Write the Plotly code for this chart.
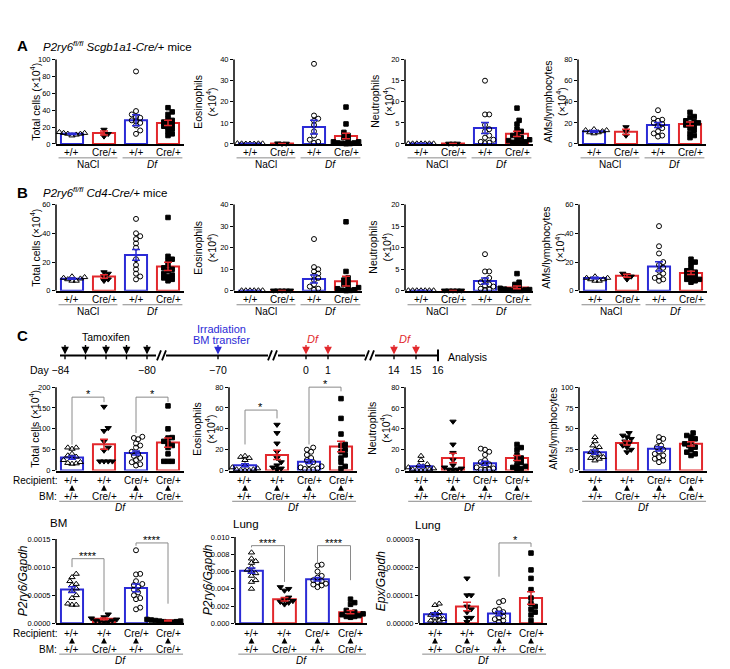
import plotly.graph_objects as go

W, H = 730, 669
BLUE = "#2b2bd6"
RED = "#e2282c"
GRAY = "#8a8a8a"
FONT = "Liberation Sans, Arial, Helvetica, sans-serif"

# ---------------- DATA ----------------
genotypes = ["+/+", "Cre/+", "+/+", "Cre/+"]
treatments = ["NaCl", "<i>Df</i>"]
recipients = ["+/+", "+/+", "Cre/+", "Cre/+"]
donors_bm = ["+/+", "Cre/+", "+/+", "Cre/+"]

# Panel A: P2ry6 fl/fl Scgb1a1-Cre/+ mice
A_total_pts = [[14, 13, 13, 12, 12, 11, 10], [17, 12, 9],
               [86, 39, 35, 32, 31, 28, 27, 25, 22, 16, 12],
               [43, 38, 35, 30, 28, 26, 25, 23, 21, 20, 18, 15, 12, 10]]
A_total_mean = [12, 13, 28, 25]
A_total_sem = [0.8, 2.5, 6.5, 3]
A_eos_pts = [[0.2, 0.1, 0.3, 0.2, 0.1, 0.2, 0.1], [0.2, 0.3, 0.1],
             [38, 13.5, 12, 11, 9, 6, 4, 2, 1, 0.5],
             [17.5, 9.5, 5.5, 4, 3, 2, 1.5, 1, 1, 0.5, 0.5, 0.3, 0.2, 0.1]]
A_eos_mean = [0.2, 0.2, 8, 3.8]
A_eos_sem = [0.05, 0.05, 3.3, 1.3]
A_neu_pts = [[0.1, 0.1, 0.1, 0.1, 0.1, 0.1, 0.1], [0.1, 0.1, 0.1],
             [15, 7, 7, 4.5, 3.5, 3, 2, 1.5, 1, 0.5, 0.3, 0.2],
             [8.5, 5.6, 4.7, 3.5, 3, 2.5, 2, 1.5, 1.2, 1, 0.8, 0.5, 0.4, 0.3, 0.2]]
A_neu_mean = [0.1, 0.1, 3.8, 2.4]
A_neu_sem = [0.02, 0.02, 1.3, 0.6]
A_am_pts = [[14, 13, 13, 12, 11, 11, 10], [16, 12, 8],
            [32, 24, 23, 22, 20, 19, 17, 15, 12, 10, 8, 7],
            [30, 26, 25, 22, 21, 20, 19, 18, 17, 15, 13, 10, 8, 6]]
A_am_mean = [12, 11.5, 18, 19]
A_am_sem = [0.8, 2.5, 2.3, 1.8]

# Panel B: P2ry6 fl/fl Cd4-Cre/+ mice
B_total_pts = [[10, 9.5, 9, 8.5, 8, 7, 7], [13, 12, 10, 8, 7],
               [50, 40, 38, 36, 33, 30, 22, 18, 15, 12, 10, 8],
               [51, 24, 22, 21, 18, 16, 15, 14, 12, 11, 10, 9, 8, 7]]
B_total_mean = [8.5, 10, 25, 17]
B_total_sem = [0.5, 1.2, 3.8, 2.8]
B_eos_pts = [[0.2, 0.2, 0.2, 0.2, 0.2, 0.2], [0.2, 0.2, 0.2, 0.2, 0.2],
             [24, 11, 10, 9, 8, 7, 6, 5, 3, 2, 1, 0.5],
             [32, 9, 6, 5, 4, 3, 2, 1.5, 1, 0.5, 0.3, 0.2, 0.1]]
B_eos_mean = [0.1, 0.1, 5.5, 4.5]
B_eos_sem = [0.05, 0.05, 1.8, 2.3]
B_neu_pts = [[0.1, 0.1, 0.1, 0.1, 0.1, 0.1, 0.1], [0.1, 0.1, 0.1, 0.1, 0.1],
             [8.5, 4.5, 4.5, 3, 2.5, 2, 1.5, 1.2, 1, 0.5, 0.3, 0.2],
             [4, 2, 1.5, 1, 0.8, 0.6, 0.5, 0.4, 0.3, 0.2, 0.2, 0.1, 0.1, 0.1]]
B_neu_mean = [0.05, 0.05, 2.3, 0.8]
B_neu_sem = [0.02, 0.02, 0.7, 0.3]
B_am_pts = [[10, 9, 9, 8, 8, 7, 7], [12, 11, 10, 8],
            [45, 31, 26, 20, 18, 16, 14, 12, 10, 9, 8, 7],
            [22, 20, 19, 16, 14, 13, 12, 11, 10, 9, 8, 8, 7, 6]]
B_am_mean = [9, 10.5, 17, 12.5]
B_am_sem = [0.5, 1, 3.2, 1.2]

# Panel C: bone marrow chimeras, Df
C_total_pts = [[55, 55, 52, 40, 36, 33, 30, 25, 20, 18, 17, 16],
               [153, 102, 95, 70, 55, 48, 22, 22, 22, 22],
               [81, 78, 75, 65, 60, 55, 45, 40, 35, 30, 25, 20, 15, 12],
               [155, 100, 79, 78, 70, 65, 60, 55, 40, 22, 22, 22]]
C_total_mean = [31, 63, 42, 67]
C_total_sem = [4, 12, 5, 11]
C_eos_pts = [[14, 13, 12, 10, 5, 3, 2, 1, 1, 0.5, 0.3, 0.2],
             [44, 36, 26, 18, 12, 8, 5, 3, 2, 1],
             [22, 20, 18, 15, 12, 10, 8, 6, 4, 3, 2, 1.5, 1, 0.5],
             [69, 50, 35, 25, 24, 20, 18, 15, 12, 8, 4, 2]]
C_eos_mean = [5, 15, 8.5, 23]
C_eos_sem = [1.5, 4.5, 1.8, 5]
C_neu_pts = [[14, 10, 6, 5, 4, 3, 2, 1, 1, 0.5, 0.5, 0.3],
             [47, 25, 17, 10, 5, 3, 2, 1, 1, 0.5],
             [21, 20, 18, 15, 10, 8, 6, 5, 3, 2, 1, 1, 0.5],
             [25, 22, 20, 15, 12, 10, 8, 5, 4, 3, 2, 1]]
C_neu_mean = [4, 12, 7, 12]
C_neu_sem = [1.2, 4.5, 2, 2.5]
C_am_pts = [[40, 35, 30, 28, 25, 22, 20, 18, 16, 15, 14, 12],
            [45, 42, 40, 38, 35, 33, 30, 28, 25, 22],
            [40, 38, 35, 30, 28, 25, 23, 20, 18, 16, 14, 12, 10],
            [45, 42, 40, 38, 35, 32, 30, 28, 25, 22, 20, 18]]
C_am_mean = [22, 33, 26, 32]
C_am_sem = [2.5, 2.5, 2.5, 2.5]

C_bm_pts = [[0.00088, 0.00082, 0.00075, 0.0007, 0.00068, 0.00062, 0.00058, 0.0005, 0.00045, 0.00035, 0.00033, 0.00033],
            [0.00016, 0.00011, 0.00009, 0.00007, 0.00005, 0.00005, 0.00004, 0.00003, 0.00002],
            [0.0013, 0.00088, 0.00087, 0.00075, 0.0007, 0.00068, 0.00065, 0.0006, 0.00055, 0.0005, 0.00045, 0.00043, 0.00028, 0.00025],
            [0.00008, 0.00007, 0.00006, 0.00006, 0.00005, 0.00005, 0.00004, 0.00004, 0.00003, 0.00003, 0.00002, 0.00002]]
C_bm_mean = [0.0006, 0.00008, 0.00063, 0.00005]
C_bm_sem = [0.00005, 0.000015, 0.00007, 0.000006]
C_lung_pts = [[0.0082, 0.0075, 0.0072, 0.007, 0.0065, 0.0062, 0.006, 0.0058, 0.0055, 0.005, 0.0048, 0.004],
              [0.0042, 0.004, 0.0038, 0.003, 0.0027, 0.0026, 0.0025, 0.0024, 0.0022],
              [0.0068, 0.0067, 0.006, 0.0055, 0.0053, 0.005, 0.0049, 0.0048, 0.0046, 0.0045, 0.0044, 0.0042],
              [0.0028, 0.0024, 0.0022, 0.0015, 0.0013, 0.0012, 0.0011, 0.001, 0.0009, 0.0008, 0.0008, 0.0007]]
C_lung_mean = [0.0061, 0.0028, 0.0051, 0.0013]
C_lung_sem = [0.0003, 0.0002, 0.0002, 0.0002]
C_epx_pts = [[7e-6, 6.5e-6, 4e-6, 3.5e-6, 3e-6, 2.5e-6, 2e-6, 1.5e-6, 1e-6, 1e-6, 0.5e-6],
             [16e-6, 10e-6, 10e-6, 6e-6, 5e-6, 4e-6, 2e-6, 2e-6, 0.5e-6],
             [8e-6, 7.5e-6, 5e-6, 4.5e-6, 4e-6, 3.5e-6, 2.5e-6, 2e-6, 1.5e-6, 1e-6, 0.5e-6],
             [25e-6, 19e-6, 16e-6, 12e-6, 9e-6, 7e-6, 6e-6, 5e-6, 4e-6, 3e-6, 1e-6]]
C_epx_mean = [3.2e-6, 6e-6, 3.5e-6, 9e-6]
C_epx_sem = [0.6e-6, 1.5e-6, 0.7e-6, 2.2e-6]

# tick values / labels
ticks_A_total = [0, 20, 40, 60, 80, 100]
ticks_eos40 = [0, 10, 20, 30, 40]
ticks_neu20 = [0, 5, 10, 15, 20]
ticks_A_am = [0, 20, 40, 60, 80]
ticks_60 = [0, 20, 40, 60]
ticks_C_total = [0, 50, 100, 150, 200]
ticks_80 = [0, 20, 40, 60, 80]
ticks_C_am = [0, 25, 50, 75, 100]
ticks_bm = [0, 0.0005, 0.0010, 0.0015]
ticktext_bm = ["0.0000", "0.0005", "0.0010", "0.0015"]
ticks_lung = [0, 0.002, 0.004, 0.006, 0.008, 0.010]
ticktext_lung = ["0.000", "0.002", "0.004", "0.006", "0.008", "0.010"]
ticks_epx = [0, 0.00001, 0.00002, 0.00003]
ticktext_epx = ["0.00000", "0.00001", "0.00002", "0.00003"]

# significance: (group i, group j, bracket top, left leg end, right leg end, label)
C_total_sig = [(0, 1, 176, 62, 164, "*"), (2, 3, 176, 90, 164, "*")]
C_eos_sig = [(0, 1, 58, 25, 50, "*"), (2, 3, 80, 25, 76, "*")]
C_bm_sig = [(0, 1, 0.00115, 0.001, 0.00021, "****"), (2, 3, 0.00143, 0.00138, 0.00035, "****")]
C_lung_sig = [(0, 1, 0.009, 0.0088, 0.0048, "****"), (2, 3, 0.009, 0.0071, 0.005, "****")]
C_epx_sig = [(2, 3, 2.86e-5, 1.66e-5, 2.72e-5, "*")]

# timeline (days)
tamoxifen_days = [-84, -83, -82, -81, -80]
irradiation_days = [-70]
df_days = [0, 1, 14, 15]
analysis_day = 16
day_labels = {-84: "Day −84", -80: "−80", -70: "−70", 0: "0", 1: "1", 14: "14", 15: "15", 16: "16"}

# ---------------- LAYOUT HELPERS ----------------
SYMBOLS = ["triangle-up-open", "triangle-down", "circle-open", "square"]
SIZES = [5.5, 5.5, 5, 4.5]
BAR_COLORS = [BLUE, RED, BLUE, RED]

fig = go.Figure()
layout = {}
shapes = []
annotations = []


def px_x(p):
    return p / W


def px_y(p):
    return 1 - p / H


def beeswarm(vals, ppu_y, ppu_x, diam=4.2):
    idx = sorted(range(len(vals)), key=lambda k: vals[k])
    placed = []
    off = [0.0] * len(vals)
    step = diam * 0.5
    cands = [0.0]
    for s in range(1, 40):
        cands += [s * step, -s * step]
    for k in idx:
        y = vals[k] * ppu_y
        for c in cands:
            if all((c - a) ** 2 + (y - b) ** 2 >= diam ** 2 for a, b in placed):
                break
        placed.append((c, y))
        off[k] = c / ppu_x
    return off


def text(x, y, s, size=10, xref="paper", yref="paper", xanchor="center", yanchor="middle",
         color="black", angle=0, **kw):
    annotations.append(dict(x=x, y=y, text=s, xref=xref, yref=yref, showarrow=False,
                            xanchor=xanchor, yanchor=yanchor, textangle=angle,
                            font=dict(size=size, color=color, family=FONT), **kw))


def up_arrow(x, y, xref):
    annotations.append(dict(x=x, y=y, xref=xref, yref="paper", ax=0, ay=7, text="",
                            showarrow=True, arrowhead=2, arrowsize=0.9, arrowwidth=1.3,
                            arrowcolor="black"))


def panel(n, pts, mean, sem, ticks, ticktext, left, width, zero_px, top_px,
          ytitle, title_x, kind, sig=(), first=False, ytitle_size=10.5):
    ppu = (zero_px - top_px) / ticks[-1]
    top_needed = max([ticks[-1]] + [max(p) for p in pts] + [s[2] for s in sig])
    ext = top_needed * 1.08
    dom_top = zero_px - ext * ppu
    xa, ya = f"x{n}", f"y{n}"
    layout[f"xaxis{n}"] = dict(domain=[px_x(left), px_x(left + width)], anchor=ya,
                               range=[-0.5, 3.5], showline=True, linecolor="black", linewidth=1.5,
                               showticklabels=False, ticks="", showgrid=False, zeroline=False,
                               fixedrange=True)
    layout[f"yaxis{n}"] = dict(domain=[px_y(zero_px), px_y(dom_top)], anchor=xa,
                               range=[0, ext], tickvals=ticks,
                               ticktext=ticktext if ticktext else [str(t) for t in ticks],
                               ticks="outside", ticklen=3, tickwidth=1.2, tickcolor="black",
                               tickfont=dict(size=7.5, family=FONT, color="black"),
                               showline=False, showgrid=False, zeroline=False, fixedrange=True)
    shapes.append(dict(type="line", xref="paper", yref=ya, x0=px_x(left), x1=px_x(left),
                       y0=0, y1=ticks[-1], line=dict(color="black", width=1.5)))
    ppu_x = width / 4.0
    for col in (BLUE, RED):
        ids = [i for i in range(4) if BAR_COLORS[i] == col]
        fig.add_trace(go.Bar(x=ids, y=[mean[i] for i in ids], width=0.69, xaxis=xa, yaxis=ya,
                             marker=dict(color="rgba(0,0,0,0)", line=dict(color=col, width=2)),
                             showlegend=False, hoverinfo="skip"))
    for i in range(4):
        off = beeswarm(pts[i], ppu, ppu_x)
        fig.add_trace(go.Scatter(x=[i + o for o in off], y=pts[i], mode="markers", xaxis=xa, yaxis=ya,
                                 cliponaxis=False, showlegend=False, hoverinfo="skip",
                                 marker=dict(symbol=SYMBOLS[i], size=SIZES[i], color="black",
                                             line=dict(color="black", width=1))))
    for i in range(4):
        fig.add_trace(go.Scatter(x=[i], y=[mean[i]], mode="markers", xaxis=xa, yaxis=ya,
                                 showlegend=False, hoverinfo="skip", cliponaxis=False,
                                 marker=dict(size=1, color="rgba(0,0,0,0)"),
                                 error_y=dict(type="data", array=[sem[i]], color=BAR_COLORS[i],
                                              thickness=1.5, width=4)))
    for (i, j, top, lb, rb, lab) in sig:
        for (x0, y0, x1, y1) in [(i, lb, i, top), (i, top, j, top), (j, top, j, rb)]:
            shapes.append(dict(type="line", xref=xa, yref=ya, x0=x0, x1=x1, y0=y0, y1=y1,
                               line=dict(color=GRAY, width=1)))
        text((i + j) / 2, top, lab, size=11, xref=xa, yref=ya, yanchor="bottom", yshift=-5)
    text(px_x(title_x), px_y((zero_px + top_px) / 2), ytitle, size=ytitle_size, angle=-90)
    if kind == "AB":
        for i in range(4):
            text(i, px_y(zero_px + 9), genotypes[i], size=10, xref=xa)
        for (a, b, lab, c) in [(-0.42, 1.42, treatments[0], 0.5), (1.58, 3.45, treatments[1], 2.5)]:
            shapes.append(dict(type="line", xref=xa, yref="paper", x0=a, x1=b,
                               y0=px_y(zero_px + 14), y1=px_y(zero_px + 14),
                               line=dict(color=GRAY, width=1)))
            text(c, px_y(zero_px + 20.5), lab, size=10, xref=xa)
    else:
        for i in range(4):
            text(i, px_y(zero_px + 10), recipients[i], size=10, xref=xa)
            up_arrow(i, px_y(zero_px + 14.5), xa)
            text(i, px_y(zero_px + 26), donors_bm[i], size=10, xref=xa)
        shapes.append(dict(type="line", xref=xa, yref="paper", x0=-0.4, x1=3.47,
                           y0=px_y(zero_px + 31), y1=px_y(zero_px + 31),
                           line=dict(color=GRAY, width=1)))
        text(1.5, px_y(zero_px + 37), "<i>Df</i>", size=10, xref=xa)
        if first:
            text(px_x(51), px_y(zero_px + 10), "Recipient:", size=10, xanchor="right")
            text(px_x(51), px_y(zero_px + 26), "BM:", size=10, xanchor="right")


X10 = "(×10<sup>4</sup>)"
panel(1, A_total_pts, A_total_mean, A_total_sem, ticks_A_total, None, 48, 128, 137, 52,
      "Total cells " + X10, 27, "AB")
panel(2, A_eos_pts, A_eos_mean, A_eos_sem, ticks_eos40, None, 226, 128, 137, 52,
      "Eosinophils<br>" + X10, 197, "AB")
panel(3, A_neu_pts, A_neu_mean, A_neu_sem, ticks_neu20, None, 397, 128, 137, 52,
      "Neutrophils<br>" + X10, 374, "AB")
panel(4, A_am_pts, A_am_mean, A_am_sem, ticks_A_am, None, 570, 128, 137, 52,
      "AMs/lymphocytes<br>" + X10, 547, "AB")
panel(5, B_total_pts, B_total_mean, B_total_sem, ticks_60, None, 48, 128, 285, 198,
      "Total cells " + X10, 27, "AB")
panel(6, B_eos_pts, B_eos_mean, B_eos_sem, ticks_eos40, None, 226, 128, 285, 198,
      "Eosinophils<br>" + X10, 197, "AB")
panel(7, B_neu_pts, B_neu_mean, B_neu_sem, ticks_neu20, None, 397, 128, 285, 198,
      "Neutrophils<br>" + X10, 372, "AB")
panel(8, B_am_pts, B_am_mean, B_am_sem, ticks_60, None, 571, 128, 285, 198,
      "AMs/lymphocytes<br>" + X10, 545, "AB")
panel(9, C_total_pts, C_total_mean, C_total_sem, ticks_C_total, None, 48, 128, 466, 382,
      "Total cells " + X10, 26, "C", C_total_sig, first=True)
panel(10, C_eos_pts, C_eos_mean, C_eos_sem, ticks_80, None, 221, 128, 466, 382,
      "Eosinophils<br>" + X10, 196, "C", C_eos_sig)
panel(11, C_neu_pts, C_neu_mean, C_neu_sem, ticks_80, None, 397, 128, 466, 382,
      "Neutrophils<br>" + X10, 371, "C")
panel(12, C_am_pts, C_am_mean, C_am_sem, ticks_C_am, None, 571, 128, 466, 382,
      "AMs/lymphocytes", 545, "C")
panel(13, C_bm_pts, C_bm_mean, C_bm_sem, ticks_bm, ticktext_bm, 48, 128, 620, 535,
      "<i>P2ry6/Gapdh</i>", 15, "C", C_bm_sig, first=True, ytitle_size=12)
panel(14, C_lung_pts, C_lung_mean, C_lung_sem, ticks_lung, ticktext_lung, 227, 132, 620, 533,
      "<i>P2ry6/Gapdh</i>", 200, "C", C_lung_sig, ytitle_size=12)
panel(15, C_epx_pts, C_epx_mean, C_epx_sem, ticks_epx, ticktext_epx, 411, 128, 620, 535,
      "<i>Epx/Gapdh</i>", 373, "C", C_epx_sig, ytitle_size=12)

text(px_x(7), px_y(38), "<b>A</b>", size=15, xanchor="left")
text(px_x(33), px_y(38), "<i>P2ry6<sup>fl/fl</sup> Scgb1a1-Cre/+</i> mice", size=11.5, xanchor="left")
text(px_x(7), px_y(185.5), "<b>B</b>", size=15, xanchor="left")
text(px_x(33), px_y(185.5), "<i>P2ry6<sup>fl/fl</sup> Cd4-Cre/+</i> mice", size=11.5, xanchor="left")
text(px_x(7), px_y(330), "<b>C</b>", size=15, xanchor="left")
text(px_x(40), px_y(519), "BM", size=11.5, xanchor="left")
text(px_x(223), px_y(520), "Lung", size=11.5, xanchor="left")
text(px_x(405), px_y(521), "Lung", size=11.5, xanchor="left")

# ---------------- TIMELINE (broken day axis) ----------------
layout["xaxis16"] = dict(domain=[0, 1], range=[0, W], visible=False, anchor="y16", fixedrange=True)
layout["yaxis16"] = dict(domain=[0, 1], range=[H, 0], visible=False, anchor="x16", fixedrange=True)
TL_SEGMENTS = [(-84, -80, 57, 139), (-70, -70, 210, 210), (0, 1, 298, 320), (14, 16, 386, 430)]
TL_Y = 350


def day_pos(d):
    for a, b, p0, p1 in TL_SEGMENTS:
        if a <= d <= b:
            return p0 if a == b else p0 + (d - a) * (p1 - p0) / (b - a)
    raise ValueError(d)


def tl_line(x0, y0, x1, y1, width=2, color="black"):
    shapes.append(dict(type="line", xref="x16", yref="y16", x0=x0, y0=y0, x1=x1, y1=y1,
                       line=dict(color=color, width=width)))


for a, b in [(52, 148), (158, 260), (270, 357), (367, day_pos(analysis_day))]:
    tl_line(a, TL_Y, b, TL_Y)
for bx in (149, 260, 357):
    for dx in (0, 5):
        tl_line(bx + dx, TL_Y + 5, bx + dx + 4, TL_Y - 5, width=1.8)
tl_line(day_pos(analysis_day), TL_Y - 6, day_pos(analysis_day), TL_Y + 6)


def tl_arrow(d, color):
    x = day_pos(d)
    annotations.append(dict(x=x, y=TL_Y - 1, ax=x, ay=TL_Y - 12, xref="x16", yref="y16",
                            axref="x16", ayref="y16", showarrow=True, arrowhead=2, arrowsize=1.1,
                            arrowwidth=1.4, arrowcolor=color, text=""))
    tl_line(x, TL_Y, x, TL_Y + 4, width=1.4)


for d in tamoxifen_days:
    tl_arrow(d, "black")
for d in irradiation_days:
    tl_arrow(d, BLUE)
for d in df_days:
    tl_arrow(d, RED)

for d, lab in day_labels.items():
    if d == -84:
        text(day_pos(d) + 7, 365, lab, size=10.5, xref="x16", yref="y16", xanchor="right")
    else:
        text(day_pos(d), 365, lab, size=10.5, xref="x16", yref="y16")

text((day_pos(tamoxifen_days[0]) + day_pos(tamoxifen_days[-1])) / 2, 331, "Tamoxifen", size=10.5,
     xref="x16", yref="y16")
text(day_pos(irradiation_days[0]) + 3, 323, "Irradiation", size=11, xref="x16", yref="y16", color=BLUE)
text(day_pos(irradiation_days[0]) + 3, 334, "BM transfer", size=11, xref="x16", yref="y16", color=BLUE)
text((day_pos(df_days[0]) + day_pos(df_days[1])) / 2 - 4, 333, "<i>Df</i>", size=11, xref="x16", yref="y16", color=RED)
text((day_pos(df_days[2]) + day_pos(df_days[3])) / 2, 333, "<i>Df</i>", size=11, xref="x16", yref="y16", color=RED)
text(day_pos(analysis_day) + 8, 352, "Analysis", size=10.5, xref="x16", yref="y16", xanchor="left")

fig.add_trace(go.Scatter(x=[], y=[], xaxis="x16", yaxis="y16", showlegend=False))

fig.update_layout(width=W, height=H, margin=dict(l=0, r=0, t=0, b=0), autosize=False,
                  paper_bgcolor="white", plot_bgcolor="rgba(0,0,0,0)", barmode="overlay",
                  showlegend=False, font=dict(family=FONT, color="black"),
                  shapes=shapes, annotations=annotations, **layout)
fig.write_html("out.html")
